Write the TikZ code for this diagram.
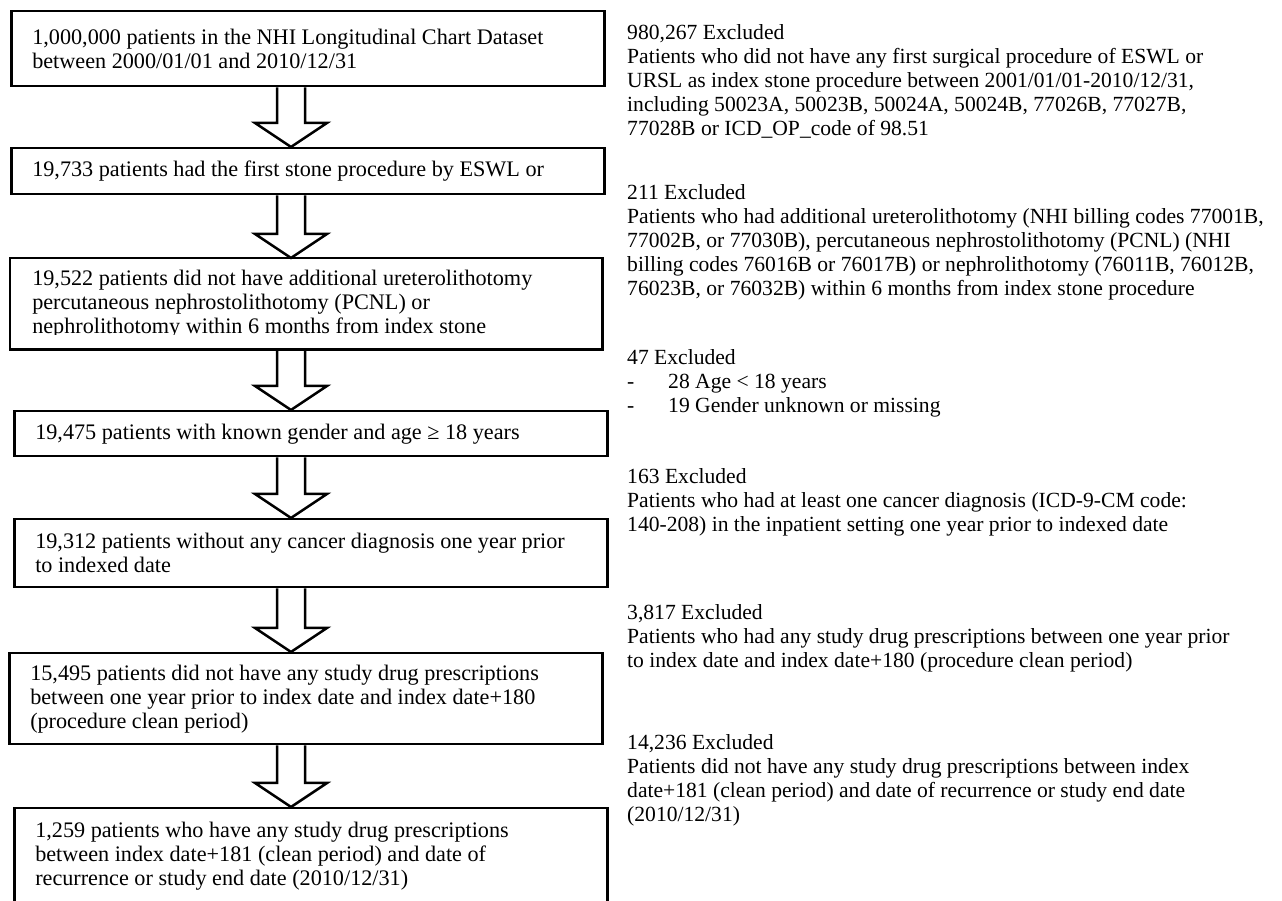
\documentclass[tikz,border=0pt]{standalone}
\usepackage{fontspec}
\setmainfont{Liberation Serif}
\usetikzlibrary{calc}
\tikzset{
  flowbox/.style={draw, line width=2.5pt, anchor=north west, inner xsep=21pt, inner ysep=0pt,
    text width=551pt, align=flush left, font=\fontsize{22.2}{24}\selectfont},
  excltext/.style={anchor=north west, inner sep=0pt, align=left, font=\fontsize{21.6}{24}\selectfont},
  blockarrow/.style={draw, line width=2.5pt, line join=miter}
}
\newcommand{\flowarrow}[2]{%
  \draw[blockarrow] ($(#1.south -| axis)+(-\sw,0)$) -- ($(#2.north -| axis)+(-\sw,\hl)$)
    -- ($(#2.north -| axis)+(-\hw,\hl)$) -- (#2.north -| axis) -- ($(#2.north -| axis)+(\hw,\hl)$)
    -- ($(#2.north -| axis)+(\sw,\hl)$) -- ($(#1.south -| axis)+(\sw,0)$);}
\begin{document}
\begin{tikzpicture}[x=1pt,y=1pt]
  \def\sw{14} \def\hw{36} \def\hl{24}
  \useasboundingbox (0,0) rectangle (1282,901);
  \clip (0,0) rectangle (1282,901);
  \coordinate (axis) at (291,0);
  % left column
  \node[flowbox, minimum height=75pt] (b1) at (10,891)
    {1,000,000 patients in the NHI Longitudinal Chart Dataset\\ between 2000/01/01 and 2010/12/31};
  \node[flowbox, minimum height=46pt] (b2) at (10,754)
    {19,733 patients had the first stone procedure by ESWL or};
  \begin{scope}
    \clip (0,566) rectangle (1282,643);
    \node[flowbox, draw=none, text width=548pt, minimum height=89pt] (b3) at (10,643)
      {19,522 patients did not have additional ureterolithotomy\\ percutaneous nephrostolithotomy (PCNL) or\\ nephrolithotomy within 6 months from index stone};
  \end{scope}
  \draw[line width=2.5pt] (b3.north west) rectangle (b3.south east);
  \node[flowbox, minimum height=45pt] (b4) at (13,491)
    {19,475 patients with known gender and age ≥ 18 years};
  \node[flowbox, minimum height=68pt] (b5) at (13,383)
    {19,312 patients without any cancer diagnosis one year prior\\ to indexed date};
  \node[flowbox, minimum height=91pt] (b6) at (8,249)
    {15,495 patients did not have any study drug prescriptions\\ between one year prior to index date and index date+180\\ (procedure clean period)};
  \node[flowbox, minimum height=96pt] (b7) at (13,94)
    {1,259 patients who have any study drug prescriptions\\ between index date+181 (clean period) and date of\\ recurrence or study end date (2010/12/31)};
  \flowarrow{b1}{b2}
  \flowarrow{b2}{b3}
  \flowarrow{b3}{b4}
  \flowarrow{b4}{b5}
  \flowarrow{b5}{b6}
  \flowarrow{b6}{b7}
  % exclusions
  \node[excltext] (x1) at (627,876.5) {980,267 Excluded\\
    Patients who did not have any first surgical procedure of ESWL or\\
    URSL as index stone procedure between 2001/01/01-2010/12/31,\\
    including 50023A, 50023B, 50024A, 50024B, 77026B, 77027B,\\
    77028B or ICD\_OP\_code of 98.51};
  \node[excltext] (x2) at (627,716.5) {211 Excluded\\
    Patients who had additional ureterolithotomy (NHI billing codes 77001B,\\
    77002B, or 77030B), percutaneous nephrostolithotomy (PCNL) (NHI\\
    billing codes 76016B or 76017B) or nephrolithotomy (76011B, 76012B,\\
    76023B, or 76032B) within 6 months from index stone procedure};
  \node[excltext] (x3) at (627,551.5) {47 Excluded\\
    \makebox[41pt][l]{-}28 Age < 18 years\\
    \makebox[41pt][l]{-}19 Gender unknown or missing};
  \node[excltext] (x4) at (627,432.5) {163 Excluded\\
    Patients who had at least one cancer diagnosis (ICD-9-CM code:\\
    140-208) in the inpatient setting one year prior to indexed date};
  \node[excltext] (x5) at (627,296.5) {3,817 Excluded\\
    Patients who had any study drug prescriptions between one year prior\\
    to index date and index date+180 (procedure clean period)};
  \node[excltext] (x6) at (627,166.5) {14,236 Excluded\\
    Patients did not have any study drug prescriptions between index\\
    date+181 (clean period) and date of recurrence or study end date\\
    (2010/12/31)};
\end{tikzpicture}
\end{document}
